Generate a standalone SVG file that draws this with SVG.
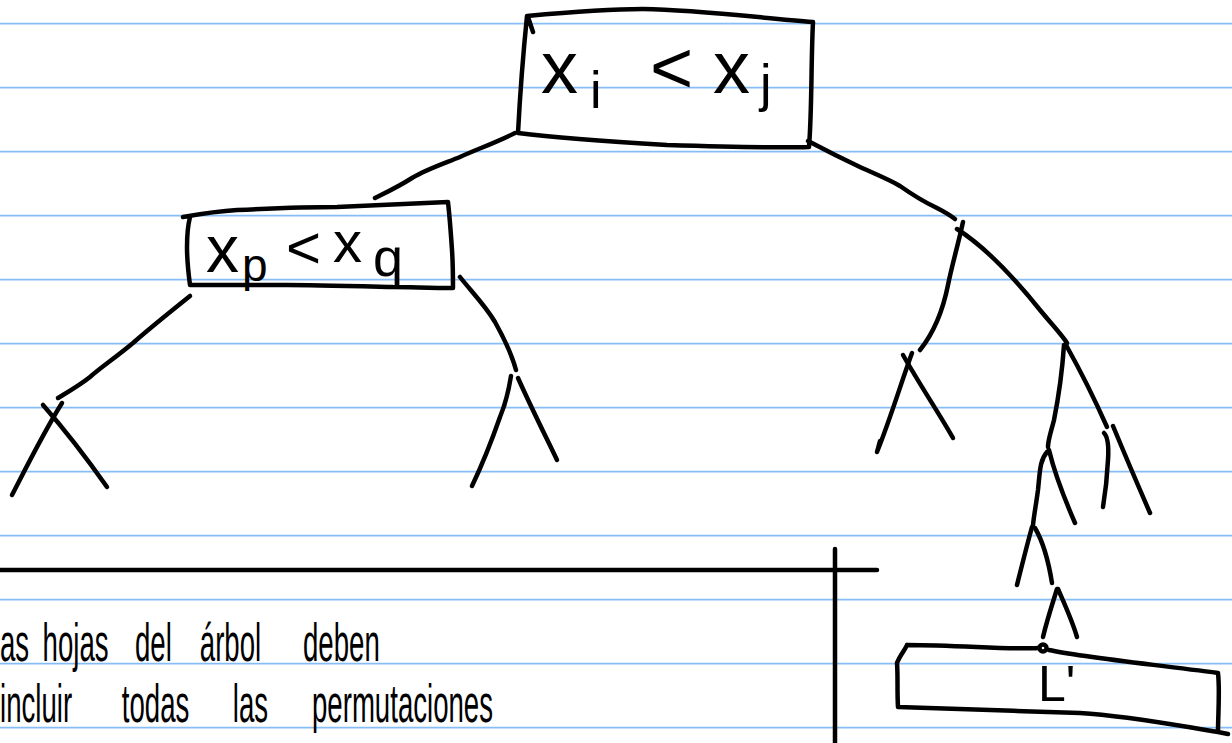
<svg xmlns="http://www.w3.org/2000/svg" width="1232" height="743" viewBox="0 0 1232 743">
<defs>
<style>
.rule{stroke:#86bdf5;stroke-width:1.8;fill:none}
.ink{fill:none;stroke:#000;stroke-width:4.5;stroke-linecap:round;stroke-linejoin:round}
.hand{font-family:"Liberation Sans",Arial,sans-serif;fill:#000}
</style>
</defs>
<rect width="1232" height="743" fill="#fff"/>
<g id="paper-rules">
<path class="rule" d="M0,23.7H1232M0,87.7H1232M0,151.7H1232M0,215.7H1232M0,279.7H1232M0,343.7H1232M0,407.7H1232M0,471.7H1232M0,535.7H1232M0,599.7H1232M0,663.7H1232M0,727.7H1232"/>
</g>
<g id="connectors">
<path class="ink" d="M515,133 C495,143 475,150 460,157 C440,165 425,170 412,178 C398,187 385,193 375,198"/>
<path class="ink" d="M808,141 C825,150 845,160 862,168 C880,176 890,180 900,186 C910,193 920,200 935,207 C945,212 950,215 955,219"/>
<path class="ink" d="M963,222 C958,245 952,265 948,285 C942,315 932,335 920,350"/>
<path class="ink" d="M957,229 C990,250 1020,285 1040,310 C1055,328 1062,335 1067,343"/>
<path class="ink" d="M912,353 C902,380 890,420 877,452 M880,441 L877,452"/>
<path class="ink" d="M903,355 C920,385 940,415 953,438"/>
<path class="ink" d="M1064,345 C1062,375 1058,400 1054,420 C1051,432 1048,440 1048,447"/>
<path class="ink" d="M1066,345 C1080,370 1095,400 1107,427"/>
<path class="ink" d="M1047,452 C1040,460 1040,470 1038,490 C1036,505 1034,515 1033,525"/>
<path class="ink" d="M1049,450 C1055,475 1065,500 1075,523"/>
<path class="ink" d="M1104,433 C1108,437 1109,445 1108,460 C1107,480 1105,495 1103,507"/>
<path class="ink" d="M1113,426 C1125,455 1140,490 1150,513"/>
<path class="ink" d="M1032,527 C1027,545 1022,565 1017,585"/>
<path class="ink" d="M1035,528 C1042,540 1048,558 1052,583"/>
<path class="ink" d="M1057,589 C1052,605 1047,620 1043,637"/>
<path class="ink" d="M1058,589 C1065,605 1072,620 1077,637"/>
<circle class="ink" cx="1043" cy="648" r="3.5"/>
<path class="ink" d="M190,296 C170,312 150,328 133,343 C115,358 100,368 90,377 C80,385 68,392 58,398"/>
<path class="ink" d="M62,403 C45,430 30,460 12,495"/>
<path class="ink" d="M43,405 C65,430 88,460 107,487"/>
<path class="ink" d="M460,277 C470,290 485,305 495,322 C505,340 512,355 516,370"/>
<path class="ink" d="M511,376 C508,395 505,405 500,417 C492,440 482,465 472,486"/>
<path class="ink" d="M518,378 C530,405 545,435 557,460"/>
</g>
<g id="node-root">
<path class="ink" d="M527,16 C570,12 610,9 643,9 C700,10 760,18 813,22 C811,60 812,110 809,147 C780,148 700,146 667,145 C600,141 550,137 518,133 C520,95 523,55 527,16 Z M528,17 L533,32"/>
<text class="hand"><tspan x="541" y="93" font-size="74">x</tspan><tspan x="590" y="108" font-size="52">i</tspan> <tspan x="650" y="93" font-size="74">&lt;</tspan> <tspan x="713" y="93" font-size="74">x</tspan><tspan x="760" y="101" font-size="52">j</tspan></text>
</g>
<g id="node-left">
<path class="ink" d="M183,217 C200,214 220,211 237,210 C280,208 310,207 337,207 C380,205 420,203 448,202 C450,220 451,235 452,250 C453,265 453,278 453,288 C430,288 410,287 393,287 C350,286 310,285 287,285 C250,285 215,285 190,285 C188,270 187,260 187,247 C187,235 188,225 190,217"/>
<text class="hand"><tspan x="206" y="272" font-size="66">x</tspan><tspan x="242" y="281" font-size="46">p</tspan> <tspan x="286" y="268" font-size="60">&lt;</tspan> <tspan x="333" y="262" font-size="58">x</tspan><tspan x="373" y="276" font-size="54">q</tspan></text>
</g>
<g id="node-leaf">
<path class="ink" d="M907,645 C960,645 1010,650 1038,648 M1049,650 C1080,657 1150,664 1218,673 C1220,690 1218,715 1218,732 L1228,734 M1218,732 C1180,726 1130,716 1080,713 C1020,711 950,709 898,707 C897,690 898,675 897,663 C900,655 905,650 907,645"/>
<text class="hand" x="1038" y="701" font-size="50">L'</text>
</g>
<g id="note">
<path class="ink" d="M0,570 L877,570 M835,549 L835,743"/>
<text class="hand" font-size="46" transform="translate(0,661) scale(0.6,1.15)"><tspan x="0" y="0">as</tspan> <tspan x="71" y="0">hojas</tspan> <tspan x="225" y="0">del</tspan> <tspan x="333" y="0">árbol</tspan> <tspan x="505" y="0">deben</tspan></text>
<text class="hand" font-size="46" transform="translate(0,722) scale(0.6,1.15)"><tspan x="0" y="0">incluir</tspan> <tspan x="203" y="0">todas</tspan> <tspan x="388" y="0">las</tspan> <tspan x="520" y="0">permutaciones</tspan></text>
</g>
</svg>
